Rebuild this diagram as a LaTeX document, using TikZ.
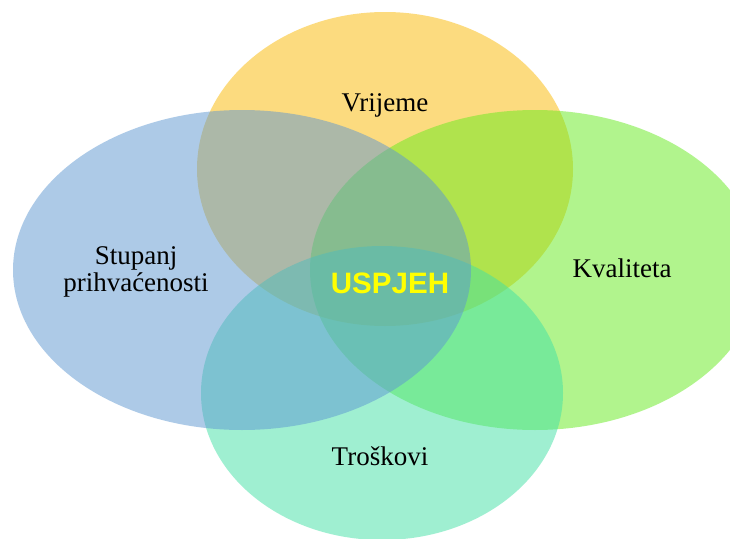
\documentclass[tikz,border=0pt]{standalone}
\usepackage{fontspec}
\setmainfont{Liberation Serif}
\newfontfamily\goalfont{Liberation Sans}
\definecolor{vrijemeC}{RGB}{251,185,0}
\definecolor{kvalitetaC}{RGB}{101,235,29}
\definecolor{troskoviC}{RGB}{65,225,165}
\definecolor{stupanjC}{RGB}{93,151,209}
\tikzset{
  krug/.style={fill opacity=0.5, draw=none},
  oznaka/.style={anchor=base, font=\fontsize{19.2}{19.2}\selectfont, text=black, inner sep=0pt},
}
\begin{document}
\begin{tikzpicture}[x=0.025cm, y=-0.025cm]
		\useasboundingbox (0,0) rectangle (730,539);
		\fill[white] (0,0) rectangle (730,539);
		% the four circles, back to front
		\fill[krug, vrijemeC] (385,169) ellipse (188 and 157);
		\fill[krug, kvalitetaC] (535,270) ellipse (225 and 160);
		\fill[krug, troskoviC] (382,393) ellipse (181 and 147);
		\fill[krug, stupanjC] (242,270) ellipse (229 and 160);
		% labels
		\node[oznaka] (vrijeme) at (385,111) {Vrijeme};
		\node[oznaka] (kvaliteta) at (622,277) {Kvaliteta};
		\node[oznaka] (troskovi) at (380,465) {Troškovi};
		\node[oznaka, align=center] (stupanj) at (136,291) {Stupanj\\prihvaćenosti};
		\node[anchor=base, inner sep=0pt, text={rgb,255:red,255;green,255;blue,0},
			font=\goalfont\bfseries\fontsize{21}{22}\selectfont] (uspjeh) at (390,293) {USPJEH};
	\end{tikzpicture}
\end{document}
